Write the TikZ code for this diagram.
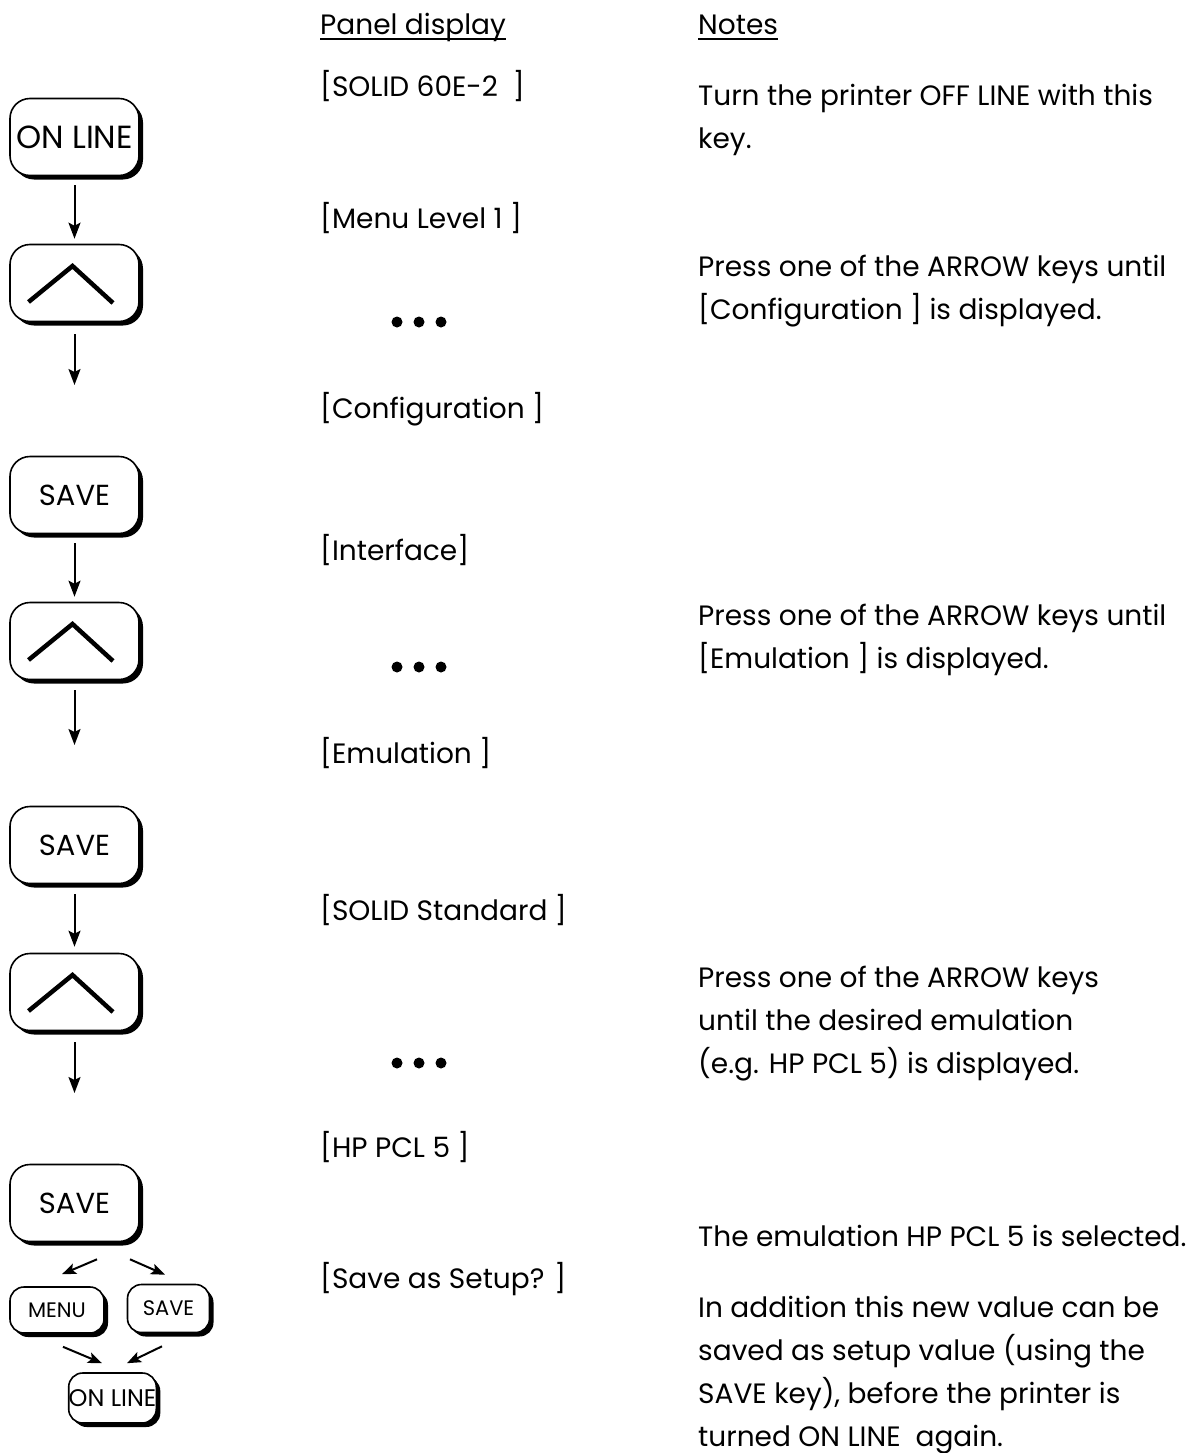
\documentclass[tikz,border=0pt]{standalone}
\usepackage{fontspec}
\setmainfont{Poppins}
\usepackage{tikz}
\usetikzlibrary{arrows.meta, shadows, positioning}
\newcommand{\bodysize}{\fontsize{28}{43}\selectfont}
\newcommand{\keysize}{\fontsize{21}{24}\selectfont}
\tikzset{
	bigkey/.style={
			rectangle,
			rounded corners=20pt,
			draw=black,
			line width=1.6pt,
			fill=white,
			minimum width=129pt,
			minimum height=77pt,
			inner sep=0pt,
			font=\fontsize{29}{34}\selectfont,
			drop shadow={shadow xshift=4pt, shadow yshift=-4pt, fill=black, opacity=1}
		},
	smallkey/.style={
			bigkey,
			rounded corners=14pt,
			minimum width=82pt,
			minimum height=48pt,
			font=\keysize,
			drop shadow={shadow xshift=3pt, shadow yshift=-3pt, fill=black, opacity=1}
		},
	chevron/.style={
			line width=4.5pt,
			line join=miter
		},
	flow/.style={
			line width=2pt,
			-{Stealth[length=16pt, width=12pt, inset=3pt]}
		},
	smallflow/.style={
			line width=2pt,
			-{Stealth[length=14pt, width=11pt, inset=3pt]}
		},
	display/.style={
			anchor=base west,
			inner sep=0pt,
			font=\bodysize
		},
	note/.style={
			display,
			align=left
		},
	headline/.style={
			line width=1.5pt
		}
}

\begin{document}
\begin{tikzpicture}[x=1pt, y=-1pt]
	\useasboundingbox (0,0) rectangle (1196,1453);
	% headings
	\node[display] (hpanel) at (320,35) {Panel display};
	\node[display] (hnotes) at (698,35) {Notes};
	\draw[headline] ([yshift=-4pt]hpanel.base west) -- ([yshift=-4pt]hpanel.base east);
	\draw[headline] ([yshift=-4pt]hnotes.base west) -- ([yshift=-4pt]hnotes.base east);

	% keys
	\node[bigkey, font=\fontsize{32}{36}\selectfont] (online) at (74.5,137) {ON LINE};
	\node[bigkey] (up1) at (74.5,283) {};
	\node[bigkey] (save1) at (74.5,495) {SAVE};
	\node[bigkey] (up2) at (74.5,641) {};
	\node[bigkey] (save2) at (74.5,845) {SAVE};
	\node[bigkey] (up3) at (74.5,992) {};
	\node[bigkey] (save3) at (74.5,1203) {SAVE};
	\node[smallkey, minimum width=94pt, minimum height=46pt] (menu) at (57,1310) {MENU};
	\node[smallkey] (ssave) at (168.5,1308.5) {SAVE};
	\node[smallkey, minimum width=81pt, minimum height=50pt, font=\fontsize{24}{26}\selectfont] (sonline) at (112.5,1398) {ON LINE};

	% arrow glyphs on the keys
	\foreach \k in {up1, up2, up3}
		\draw[chevron] ([shift={(-46,19)}]\k.center) -- ([shift={(-2,-17)}]\k.center) -- ([shift={(38.5,20)}]\k.center);

	% free arrow ends
	\coordinate (end1) at (74.5,385);
	\coordinate (end2) at (74.5,745);
	\coordinate (end3) at (74.5,1093);

	\draw[flow, shorten <=9pt, shorten >=5pt] (online.south) -- (up1.north);
	\draw[flow, shorten <=12pt] (up1.south) -- (end1);
	\draw[flow, shorten <=9pt, shorten >=5pt] (save1.south) -- (up2.north);
	\draw[flow, shorten <=10pt] (up2.south) -- (end2);
	\draw[flow, shorten <=10pt, shorten >=6pt] (save2.south) -- (up3.north);
	\draw[flow, shorten <=11pt] (up3.south) -- (end3);

	\draw[smallflow] ([shift={(22.5,17)}]save3.south) -- ([shift={(5,-12)}]menu.north);
	\draw[smallflow] ([shift={(55.5,17)}]save3.south) -- ([shift={(-3.5,-9)}]ssave.north);
	\draw[smallflow] ([shift={(6,13)}]menu.south) -- ([shift={(-10.5,-9)}]sonline.north);
	\draw[smallflow] ([shift={(-6.5,13)}]ssave.south) -- ([shift={(14.5,-9)}]sonline.north);

	% panel display
	\node[display] (d1) at (320,97) {[SOLID 60E-2\ \ ]};
	\node[display] (d2) at (320,228) {[Menu Level 1 ]};
	\node[display] (d3) at (320,418) {[Configuration ]};
	\node[display] (d4) at (320,560) {[Interface]};
	\node[display] (d5) at (320,763) {[Emulation ]};
	\node[display] (d6) at (320,920) {[SOLID Standard ]};
	\node[display] (d7) at (320,1157) {[HP PCL 5 ]};
	\node[display] (d8) at (320,1288) {[Save as Setup? ]};
	\foreach \y in {322, 667, 1063}
		\foreach \x in {397, 419, 441}
			\fill (\x,\y) circle (5.5pt);

	% notes (placed at the baseline of their last line)
	\node[note] (n1) at (698,148) {Turn the printer OFF LINE with this\\key.};
	\node[note] (n2) at (698,319) {Press one of the ARROW keys until\\{[}Configuration ] is displayed.};
	\node[note] (n3) at (698,668) {Press one of the ARROW keys until\\{[}Emulation ] is displayed.};
	\node[note] (n4) at (698,1073) {Press one of the ARROW keys\\until the desired emulation\\(e.g. HP PCL 5) is displayed.};
	\node[note] (n5) at (698,1246) {The emulation HP PCL 5 is selected.};
	\node[note] (n6) at (698,1446) {In addition this new value can be\\saved as setup value (using the\\SAVE key), before the printer is\\turned ON LINE\ \ again.};
\end{tikzpicture}
\end{document}
